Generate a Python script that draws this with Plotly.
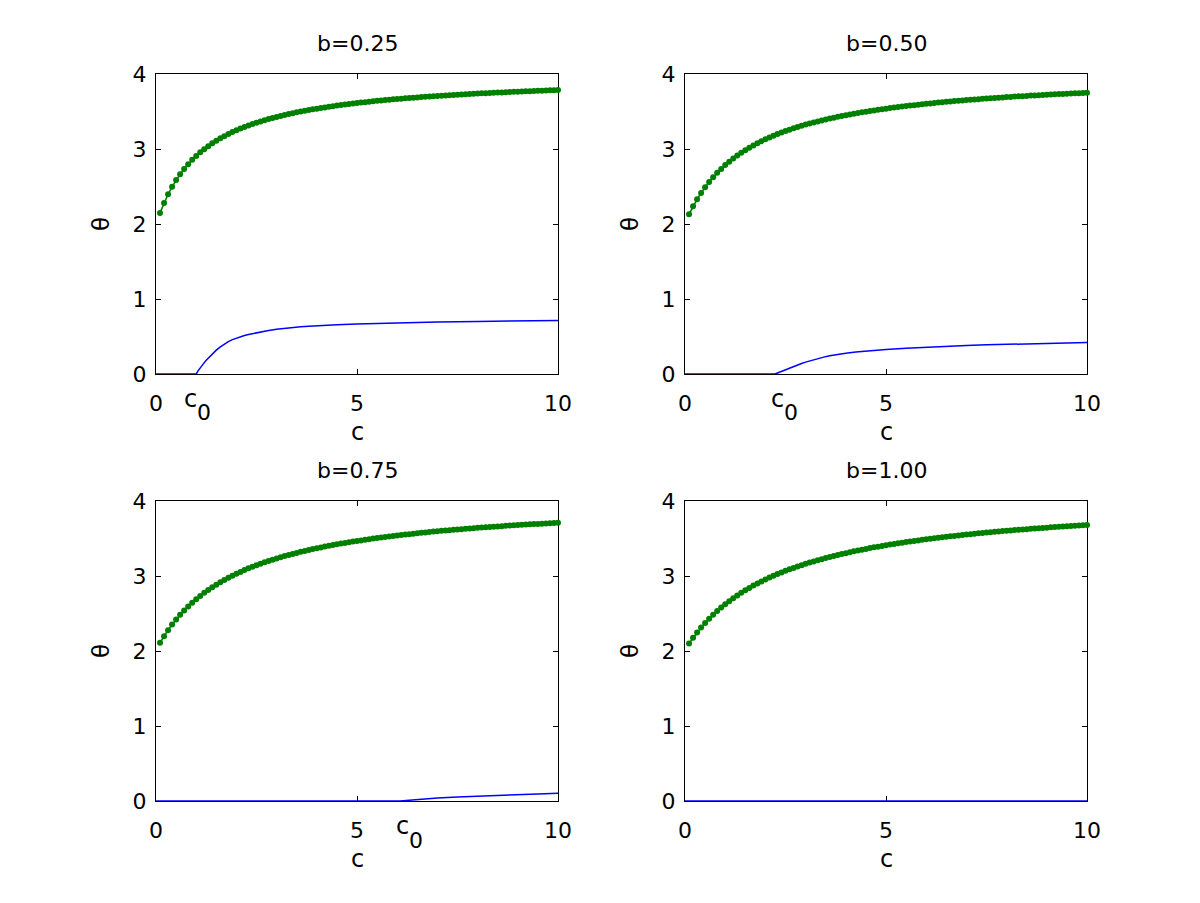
import plotly.graph_objects as go

# ---------------- data ----------------
titles = ["b=0.25", "b=0.50", "b=0.75", "b=1.00"]
c_vals = [0.1, 0.2, 0.3, 0.4, 0.5, 0.6, 0.7, 0.8, 0.9, 1.0,
          1.1, 1.2, 1.3, 1.4, 1.5, 1.6, 1.7, 1.8, 1.9, 2.0,
          2.1, 2.2, 2.3, 2.4, 2.5, 2.6, 2.7, 2.8, 2.9, 3.0,
          3.1, 3.2, 3.3, 3.4, 3.5, 3.6, 3.7, 3.8, 3.9, 4.0,
          4.1, 4.2, 4.3, 4.4, 4.5, 4.6, 4.7, 4.8, 4.9, 5.0,
          5.1, 5.2, 5.3, 5.4, 5.5, 5.6, 5.7, 5.8, 5.9, 6.0,
          6.1, 6.2, 6.3, 6.4, 6.5, 6.6, 6.7, 6.8, 6.9, 7.0,
          7.1, 7.2, 7.3, 7.4, 7.5, 7.6, 7.7, 7.8, 7.9, 8.0,
          8.1, 8.2, 8.3, 8.4, 8.5, 8.6, 8.7, 8.8, 8.9, 9.0,
          9.1, 9.2, 9.3, 9.4, 9.5, 9.6, 9.7, 9.8, 9.9, 10.0]

theta_upper_b025 = [2.148, 2.281, 2.396, 2.496, 2.585, 2.664, 2.734, 2.798, 2.855, 2.907,
                    2.955, 2.998, 3.038, 3.076, 3.110, 3.142, 3.171, 3.199, 3.225, 3.249,
                    3.272, 3.293, 3.313, 3.333, 3.351, 3.368, 3.384, 3.399, 3.414, 3.428,
                    3.441, 3.454, 3.466, 3.478, 3.489, 3.500, 3.510, 3.520, 3.529, 3.538,
                    3.547, 3.555, 3.563, 3.571, 3.579, 3.586, 3.593, 3.600, 3.606, 3.613,
                    3.619, 3.625, 3.631, 3.636, 3.642, 3.647, 3.652, 3.657, 3.662, 3.667,
                    3.671, 3.676, 3.680, 3.684, 3.688, 3.692, 3.696, 3.700, 3.704, 3.707,
                    3.711, 3.714, 3.718, 3.721, 3.724, 3.727, 3.730, 3.733, 3.736, 3.739,
                    3.742, 3.745, 3.747, 3.750, 3.752, 3.755, 3.757, 3.760, 3.762, 3.765,
                    3.767, 3.769, 3.771, 3.773, 3.776, 3.778, 3.780, 3.782, 3.784, 3.786]

theta_upper_b050 = [2.130, 2.235, 2.329, 2.413, 2.490, 2.560, 2.623, 2.682, 2.735, 2.785,
                    2.831, 2.873, 2.913, 2.950, 2.985, 3.018, 3.048, 3.077, 3.104, 3.130,
                    3.154, 3.177, 3.199, 3.220, 3.239, 3.258, 3.276, 3.293, 3.309, 3.325,
                    3.340, 3.354, 3.368, 3.381, 3.394, 3.406, 3.418, 3.429, 3.440, 3.451,
                    3.461, 3.471, 3.480, 3.489, 3.498, 3.507, 3.515, 3.523, 3.531, 3.538,
                    3.546, 3.553, 3.560, 3.566, 3.573, 3.579, 3.585, 3.591, 3.597, 3.603,
                    3.608, 3.614, 3.619, 3.624, 3.629, 3.634, 3.639, 3.643, 3.648, 3.652,
                    3.657, 3.661, 3.665, 3.669, 3.673, 3.677, 3.681, 3.685, 3.688, 3.692,
                    3.695, 3.699, 3.702, 3.705, 3.708, 3.712, 3.715, 3.718, 3.721, 3.724,
                    3.726, 3.729, 3.732, 3.735, 3.737, 3.740, 3.743, 3.745, 3.748, 3.750]

theta_upper_b075 = [2.110, 2.198, 2.278, 2.352, 2.420, 2.482, 2.540, 2.594, 2.644, 2.691,
                    2.735, 2.776, 2.815, 2.851, 2.885, 2.917, 2.948, 2.977, 3.004, 3.031,
                    3.055, 3.079, 3.102, 3.123, 3.144, 3.163, 3.182, 3.200, 3.218, 3.234,
                    3.250, 3.266, 3.280, 3.295, 3.308, 3.322, 3.334, 3.347, 3.359, 3.370,
                    3.381, 3.392, 3.402, 3.413, 3.422, 3.432, 3.441, 3.450, 3.459, 3.467,
                    3.475, 3.483, 3.491, 3.499, 3.506, 3.513, 3.520, 3.527, 3.534, 3.540,
                    3.546, 3.552, 3.558, 3.564, 3.570, 3.576, 3.581, 3.586, 3.592, 3.597,
                    3.602, 3.606, 3.611, 3.616, 3.620, 3.625, 3.629, 3.634, 3.638, 3.642,
                    3.646, 3.650, 3.654, 3.658, 3.661, 3.665, 3.669, 3.672, 3.676, 3.679,
                    3.682, 3.686, 3.689, 3.692, 3.695, 3.698, 3.701, 3.704, 3.707, 3.710]

theta_upper_b100 = [2.100, 2.176, 2.246, 2.312, 2.372, 2.429, 2.482, 2.532, 2.579, 2.623,
                    2.665, 2.704, 2.741, 2.776, 2.810, 2.841, 2.872, 2.900, 2.928, 2.954,
                    2.979, 3.003, 3.026, 3.048, 3.069, 3.089, 3.108, 3.127, 3.145, 3.162,
                    3.179, 3.195, 3.210, 3.225, 3.240, 3.254, 3.267, 3.280, 3.293, 3.305,
                    3.317, 3.329, 3.340, 3.351, 3.361, 3.372, 3.382, 3.391, 3.401, 3.410,
                    3.419, 3.428, 3.436, 3.444, 3.452, 3.460, 3.468, 3.475, 3.483, 3.490,
                    3.497, 3.503, 3.510, 3.517, 3.523, 3.529, 3.535, 3.541, 3.547, 3.552,
                    3.558, 3.563, 3.569, 3.574, 3.579, 3.584, 3.589, 3.594, 3.599, 3.603,
                    3.608, 3.612, 3.617, 3.621, 3.625, 3.629, 3.633, 3.637, 3.641, 3.645,
                    3.649, 3.652, 3.656, 3.660, 3.663, 3.667, 3.670, 3.673, 3.677, 3.680]

# lower (blue) branch
c_lower_b025 = [0.0, 1.0, 1.05, 1.1, 1.15, 1.2, 1.25, 1.3, 1.35, 1.4, 1.5, 1.6, 1.7, 1.8,
                1.9, 2.0, 2.1, 2.2, 2.3, 2.4, 2.6, 2.8, 3.0, 3.2, 3.4, 3.6, 3.8, 4.0, 4.5,
                5.0, 5.5, 6.0, 7.0, 8.0, 9.0, 10.0]
theta_lower_b025 = [0.0, 0.0, 0.045, 0.085, 0.12, 0.152, 0.183, 0.212, 0.24, 0.268, 0.318,
                    0.362, 0.4, 0.432, 0.458, 0.479, 0.497, 0.513, 0.527, 0.539, 0.561,
                    0.58, 0.596, 0.609, 0.62, 0.629, 0.637, 0.644, 0.657, 0.668, 0.676,
                    0.683, 0.693, 0.701, 0.707, 0.712]
c_lower_b050 = [0.0, 2.24, 2.3, 2.4, 2.5, 2.6, 2.7, 2.8, 2.9, 3.0, 3.15, 3.3, 3.45, 3.6,
                3.8, 4.0, 4.25, 4.5, 4.75, 5.0, 5.5, 6.0, 6.5, 7.0, 7.5, 8.0, 8.5, 9.0,
                9.5, 10.0]
theta_lower_b050 = [0.0, 0.0, 0.013, 0.036, 0.058, 0.08, 0.101, 0.121, 0.14, 0.158, 0.183,
                    0.205, 0.225, 0.243, 0.262, 0.278, 0.293, 0.306, 0.317, 0.327, 0.344,
                    0.358, 0.37, 0.38, 0.389, 0.396, 0.403, 0.409, 0.414, 0.419]
c_lower_b075 = [0.0, 6.07, 6.3, 6.5, 6.75, 7.0, 7.5, 8.0, 8.5, 9.0, 9.5, 10.0]
theta_lower_b075 = [0.0, 0.0, 0.011, 0.02, 0.031, 0.04, 0.053, 0.065, 0.076, 0.086, 0.094,
                    0.102]
c_lower_b100 = [0.0, 10.0]
theta_lower_b100 = [0.0, 0.0]

upper = [theta_upper_b025, theta_upper_b050, theta_upper_b075, theta_upper_b100]
lower_c = [c_lower_b025, c_lower_b050, c_lower_b075, c_lower_b100]
lower_t = [theta_lower_b025, theta_lower_b050, theta_lower_b075, theta_lower_b100]

c0_label_pos = [0.85, 2.29, 6.12, None]   # where the "c0" label sits on the c axis

x_ticks = [0, 5, 10]
y_ticks = [0, 1, 2, 3, 4]

# ---------------- layout geometry ----------------
W, H = 1200, 903
x_dom = [(156 / W, 558 / W), (685 / W, 1087 / W)]
y_dom = [(1 - 374 / H, 1 - 74 / H), (1 - 801 / H, 1 - 501 / H)]
panels = [(0, 0), (0, 1), (1, 0), (1, 1)]  # (row, col)

FONT = "DejaVu Sans"
FS = 22
GREEN = "#008000"
BLUE = "#0000ff"

fig = go.Figure()
annotations = []

for i, (row, col) in enumerate(panels):
    n = i + 1
    xa = "x" if n == 1 else f"x{n}"
    ya = "y" if n == 1 else f"y{n}"
    fig.add_trace(go.Scatter(x=lower_c[i], y=lower_t[i], mode="lines",
                             line=dict(color=BLUE, width=1.5),
                             xaxis=xa, yaxis=ya,
                             cliponaxis=False, showlegend=False, hoverinfo="skip"))
    fig.add_trace(go.Scatter(x=c_vals, y=upper[i], mode="lines+markers",
                             line=dict(color=GREEN, width=1.6),
                             marker=dict(color=GREEN, size=6),
                             xaxis=xa, yaxis=ya, cliponaxis=False,
                             showlegend=False, hoverinfo="skip"))
    axcommon = dict(showline=True, linecolor="black", linewidth=1.2, mirror="ticks",
                    ticks="inside", ticklen=5, tickwidth=1, tickcolor="black",
                    showgrid=False, zeroline=False, layer="below traces",
                    automargin=False, fixedrange=True,
                    tickfont=dict(family=FONT, size=FS, color="black"))
    xkey = "xaxis" if n == 1 else f"xaxis{n}"
    ykey = "yaxis" if n == 1 else f"yaxis{n}"
    fig.layout[xkey] = dict(domain=list(x_dom[col]), anchor=ya, range=[0, 10],
                            tickmode="array", tickvals=x_ticks,
                            ticktext=[str(v) for v in x_ticks],
                            ticklabelstandoff=9, **axcommon)
    fig.layout[ykey] = dict(domain=list(y_dom[row]), anchor=xa, range=[0, 4],
                            tickmode="array", tickvals=y_ticks,
                            ticktext=[str(v) for v in y_ticks],
                            ticklabelstandoff=4, **axcommon)

    xd, yd = x_dom[col], y_dom[row]
    xc = (xd[0] + xd[1]) / 2
    # title
    annotations.append(dict(text=titles[i], x=xc, y=yd[1] + 31 / H, xref="paper", yref="paper",
                            xanchor="center", yanchor="middle", showarrow=False,
                            font=dict(family=FONT, size=FS, color="black")))
    # x label
    annotations.append(dict(text="c", x=xc, y=yd[0] - 58 / H, xref="paper", yref="paper",
                            xanchor="center", yanchor="middle", showarrow=False,
                            font=dict(family=FONT, size=FS + 2, color="black")))
    # y label
    annotations.append(dict(text="θ", x=xd[0] - 55 / W, y=(yd[0] + yd[1]) / 2,
                            xref="paper", yref="paper", xanchor="center", yanchor="middle",
                            textangle=-90, showarrow=False,
                            font=dict(family=FONT, size=FS + 1, color="black")))
    # c0 label
    if c0_label_pos[i] is not None:
        annotations.append(dict(text="c", x=c0_label_pos[i], y=yd[0] - 25 / H,
                                xref=xa, yref="paper", xanchor="center", yanchor="middle",
                                showarrow=False,
                                font=dict(family=FONT, size=FS + 2, color="black")))
        annotations.append(dict(text="0", x=c0_label_pos[i], y=yd[0] - 39 / H,
                                xref=xa, yref="paper", xanchor="center", yanchor="middle",
                                xshift=14, showarrow=False,
                                font=dict(family=FONT, size=FS, color="black")))

fig.update_layout(width=W, height=H,
                  margin=dict(l=0, r=0, t=0, b=0, pad=0, autoexpand=False),
                  paper_bgcolor="white", plot_bgcolor="white",
                  annotations=annotations, showlegend=False, hovermode=False)

fig.write_html("out.html",
               config={"displayModeBar": False, "responsive": False},
               post_script="document.body.style.margin='0';"
                           "document.body.style.overflow='hidden';"
                           "document.documentElement.style.overflow='hidden';")
